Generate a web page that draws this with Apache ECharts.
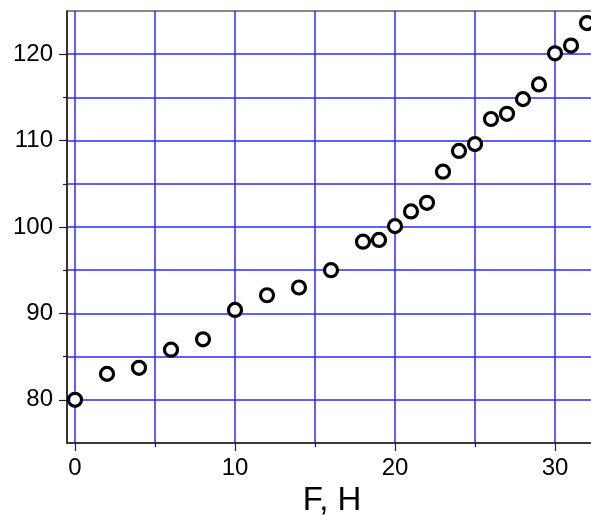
<!DOCTYPE html>
<html>
<head>
<meta charset="utf-8">
<script src="https://cdn.jsdelivr.net/npm/echarts@6/dist/echarts.min.js"></script>
<style>html,body{margin:0;padding:0;background:#fff;}#c{width:591px;height:515px;}</style>
</head>
<body>
<div id="c"></div>
<script>
const forceValues = [0, 2, 4, 6, 8, 10, 12, 14, 16, 18, 19, 20, 21, 22, 23, 24, 25, 26, 27, 28, 29, 30, 31, 32];
const yValues = [80, 83.0, 83.7, 85.8, 87.0, 90.4, 92.1, 93.0, 95.0, 98.3, 98.5, 100.1, 101.8, 102.8, 106.4, 108.8, 109.6, 112.5, 113.1, 114.8, 116.5, 120.1, 121.0, 123.6];
const xMajorTicks = [0, 10, 20, 30];
const xMinorTicks = [5, 15, 25];
const yMajorTicks = [80, 90, 100, 110, 120];
const yMinorTicks = [85, 95, 105, 115];
const xName = 'F, H';

const FONT = "'Liberation Sans', Arial, sans-serif";
const GRID_COLOR = '#2a2aff';
const GRID_W = 1.5;
const xMin = -0.5, xMax = 32.625, yMin = 75, yMax = 125;

const chart = echarts.init(document.getElementById('c'), null, {renderer: 'canvas'});
const baseX = {type: 'value', min: xMin, max: xMax, position: 'bottom'};
const baseY = {type: 'value', min: yMin, max: yMax, position: 'left'};
chart.setOption({
  animation: false,
  backgroundColor: '#fff',
  grid: {left: 67, top: 11, right: -6, bottom: 72, outerBoundsMode: 'none', containLabel: false, show: true, borderColor: '#111', borderWidth: 1.2},
  xAxis: [
    Object.assign({}, baseX, {
      name: xName, nameLocation: 'middle', nameGap: 37,
      nameTextStyle: {fontSize: 33, fontFamily: FONT, color: '#000'},
      axisLine: {show: true, onZero: false, lineStyle: {color: '#222', width: 1.5}},
      axisTick: {show: true, customValues: xMajorTicks, length: 8, inside: false, lineStyle: {color: '#222', width: 1.2}},
      axisLabel: {show: true, customValues: xMajorTicks, margin: 13, fontSize: 24, fontFamily: FONT, color: '#000'},
      splitLine: {show: true, lineStyle: {color: GRID_COLOR, width: GRID_W}}
    }),
    Object.assign({}, baseX, {
      offset: 0,
      axisLine: {show: false, onZero: false},
      axisTick: {show: true, customValues: xMinorTicks, length: 4, inside: false, lineStyle: {color: '#222', width: 1.2}},
      axisLabel: {show: false},
      splitLine: {show: true, lineStyle: {color: GRID_COLOR, width: GRID_W}}
    })
  ],
  yAxis: [
    Object.assign({}, baseY, {
      axisLine: {show: true, onZero: false, lineStyle: {color: '#222', width: 1.5}},
      axisTick: {show: true, customValues: yMajorTicks, length: 8, inside: false, lineStyle: {color: '#222', width: 1.2}},
      axisLabel: {show: true, customValues: yMajorTicks, margin: 14, fontSize: 24, fontFamily: FONT, color: '#000'},
      splitLine: {show: true, lineStyle: {color: GRID_COLOR, width: GRID_W}}
    }),
    Object.assign({}, baseY, {
      offset: 0,
      axisLine: {show: false, onZero: false},
      axisTick: {show: true, customValues: yMinorTicks, length: 4, inside: false, lineStyle: {color: '#222', width: 1.2}},
      axisLabel: {show: false},
      splitLine: {show: true, lineStyle: {color: GRID_COLOR, width: GRID_W}}
    })
  ],
  series: [{
    type: 'scatter',
    xAxisIndex: 0, yAxisIndex: 0,
    data: forceValues.map((f, i) => [f, yValues[i]]),
    symbol: 'circle',
    symbolSize: 13,
    clip: false,
    itemStyle: {color: '#fff', borderColor: '#000', borderWidth: 3.2, opacity: 1},
    emphasis: {disabled: true},
    z: 5
  }]
});
</script>
</body>
</html>
